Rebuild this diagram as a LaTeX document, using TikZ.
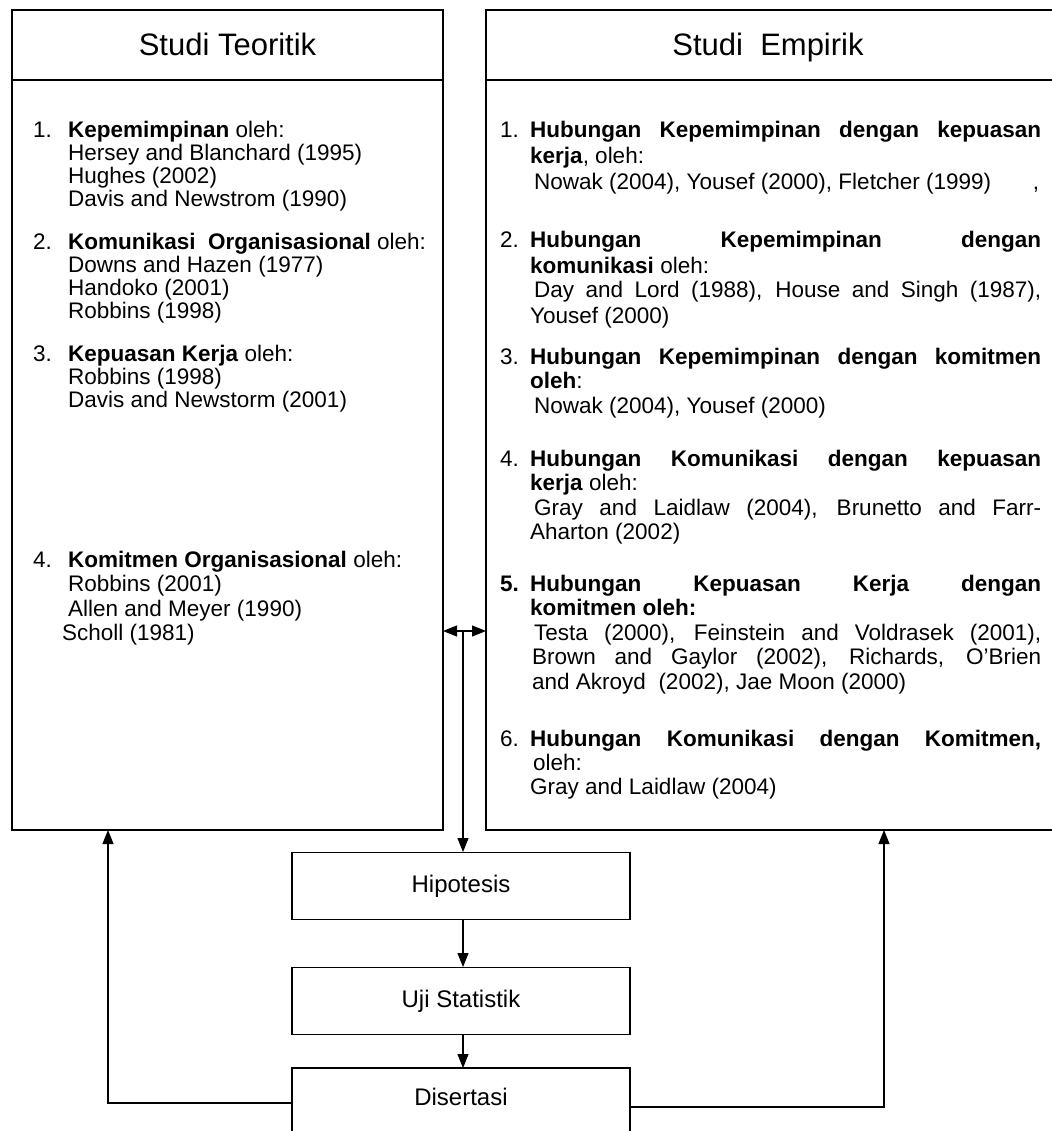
\documentclass[tikz,border=0pt]{standalone}
\usepackage{fontspec}
\setmainfont{Liberation Sans}
\usetikzlibrary{arrows.meta}

% line helpers for the two text columns
\newdimen\jw \jw=511pt
\newcommand\numbox[2]{\hbox to #1{#2\hss}}
\newcommand\jline[1]{\hbox to \jw{#1}}
\newcommand\colvtop[2]{\vtop{\baselineskip=#1\lineskiplimit=-100pt\lineskip=0pt #2}}

\tikzset{
  frame/.style={draw, line width=1.2pt},
  stepbox/.style={draw, line width=1.1pt, minimum width=338pt, minimum height=67pt, inner sep=0pt,
                  font=\fontsize{24}{28}\selectfont},
  title/.style={anchor=base, inner sep=0pt, font=\fontsize{31}{35}\selectfont},
  txt/.style={anchor=base west, inner sep=0pt, font=\fontsize{22.5}{23}\selectfont},
  link/.style={line width=1.1pt},
  tip/.style={-{Triangle[length=14pt,width=11pt]}},
}

\begin{document}
\begin{tikzpicture}[x=1pt,y=-1pt]
\useasboundingbox (0,0) rectangle (1051,1131);

% ---- left frame: Studi Teoritik
\draw[frame] (12,10) rectangle (443,830);
\draw[frame] (12,80) -- (443,80);
\node[title] (tteo) at (227.5,56) {Studi Teoritik};
\coordinate (teoR) at (443,631);
\coordinate (teoB) at (108,830);

% ---- right frame: Studi Empirik (runs past the right edge)
\draw[frame] (1070,10) -- (486,10) -- (486,830) -- (1070,830);
\draw[frame] (486,80) -- (1070,80);
\node[title] (temp) at (768,56) {Studi\ \ Empirik};
\coordinate (empL) at (486,631);
\coordinate (empB) at (884,830);

% ---- left column
\node[txt] (l1) at (33,138) {\colvtop{23pt}{%
  \hbox{\numbox{35pt}{1.}{\bfseries Kepemimpinan} oleh:}
  \hbox{\hskip35pt Hersey and Blanchard (1995)}
  \hbox{\hskip35pt Hughes (2002)}
  \hbox{\hskip35pt Davis and Newstrom (1990)}}};
\node[txt] (l2) at (33,250) {\colvtop{23pt}{%
  \hbox{\numbox{35pt}{2.}{\bfseries Komunikasi\ \ Organisasional} oleh:}
  \hbox{\hskip35pt Downs and Hazen (1977)}
  \hbox{\hskip35pt Handoko (2001)}
  \hbox{\hskip35pt Robbins (1998)}}};
\node[txt] (l3) at (33,361) {\colvtop{23pt}{%
  \hbox{\numbox{35pt}{3.}{\bfseries Kepuasan Kerja} oleh:}
  \hbox{\hskip35pt Robbins (1998)}
  \hbox{\hskip35pt Davis and Newstorm (2001)}}};
\node[txt] (l4) at (33,567) {\colvtop{24.5pt}{%
  \hbox{\numbox{35pt}{4.}{\bfseries Komitmen Organisasional} oleh:}
  \hbox{\hskip35pt Robbins (2001)}
  \hbox{\hskip35pt Allen and Meyer (1990)}
  \hbox{\hskip29pt Scholl (1981)}}};

% ---- right column
\node[txt] (r1) at (500,138) {\colvtop{26pt}{%
  \hbox{\numbox{30pt}{1.}\jline{\bfseries Hubungan Kepemimpinan dengan kepuasan}}
  \hbox{\hskip30pt{\bfseries kerja}, oleh:}
  \hbox{\hskip30pt\jline{\hskip4pt Nowak (2004), Yousef (2000), Fletcher (1999)\hfil,\hskip2pt}}}};
\node[txt] (r2) at (500,248) {\colvtop{25pt}{%
  \hbox{\numbox{30pt}{2.}\jline{\bfseries Hubungan Kepemimpinan dengan}}
  \hbox{\hskip30pt{\bfseries komunikasi} oleh:}
  \hbox{\hskip30pt\jline{\hskip4pt Day and Lord (1988), House and Singh (1987),}}
  \hbox{\hskip30pt Yousef (2000)}}};
\node[txt] (r3) at (500,364) {\colvtop{24.5pt}{%
  \hbox{\numbox{30pt}{3.}\jline{\bfseries Hubungan Kepemimpinan dengan komitmen}}
  \hbox{\hskip30pt{\bfseries oleh}:}
  \hbox{\hskip30pt\hskip4pt Nowak (2004), Yousef (2000)}}};
\node[txt] (r4) at (500,466) {\colvtop{24.5pt}{%
  \hbox{\numbox{30pt}{4.}\jline{\bfseries Hubungan Komunikasi dengan kepuasan}}
  \hbox{\hskip30pt{\bfseries kerja} oleh:}
  \hbox{\hskip30pt\jline{\hskip4pt Gray and Laidlaw (2004), Brunetto and Farr-}}
  \hbox{\hskip30pt Aharton (2002)}}};
\node[txt] (r5) at (500,591) {\colvtop{24.5pt}{%
  \hbox{\numbox{30pt}{\bfseries 5.}\jline{\bfseries Hubungan Kepuasan Kerja dengan}}
  \hbox{\hskip30pt{\bfseries komitmen oleh:}}
  \hbox{\hskip30pt\jline{\hskip4pt Testa (2000), Feinstein and Voldrasek (2001),}}
  \hbox{\hskip30pt\jline{\hskip2pt Brown and Gaylor (2002), Richards, O'Brien}}
  \hbox{\hskip30pt\hskip2pt and Akroyd\ \ (2002), Jae Moon (2000)}}};
\node[txt] (r6) at (500,746) {\colvtop{24pt}{%
  \hbox{\numbox{30pt}{6.}\jline{\bfseries Hubungan Komunikasi dengan Komitmen,}}
  \hbox{\hskip30pt\hskip3pt oleh:}
  \hbox{\hskip30pt Gray and Laidlaw (2004)}}};

% ---- process chain
\node[stepbox, anchor=north] (hip) at (461,852) {\raisebox{4pt}{Hipotesis}};
\node[stepbox, anchor=north] (uji) at (461,967) {\raisebox{4pt}{Uji Statistik}};
\node[inner sep=0pt, font=\fontsize{24}{28}\selectfont] (dis) at (461,1097) {Disertasi};
\draw[link] (292,1140) -- (292,1068) -- (630,1068) -- (630,1140);
\coordinate (mid) at (463,631);
\coordinate (disT) at (463,1068);
\coordinate (disL) at (292,1103);
\coordinate (disR) at (630,1107);

% ---- connectors
\draw[link, {Triangle[length=14pt,width=11pt]}-{Triangle[length=14pt,width=11pt]}] (teoR) -- (empL);
\draw[link, tip] (mid) -- (hip.north -| mid);
\draw[link, tip] (hip.south -| mid) -- (uji.north -| mid);
\draw[link, tip] (uji.south -| mid) -- (disT);
\draw[link, tip] (disL) -| (teoB);
\draw[link, tip] (disR) -| (empB);
\end{tikzpicture}
\end{document}
